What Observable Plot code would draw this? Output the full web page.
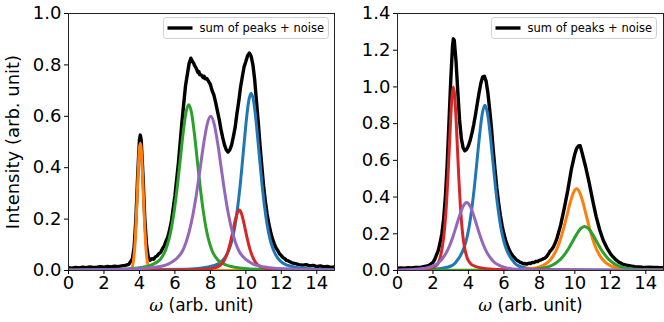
<!DOCTYPE html>
<html><head><meta charset="utf-8">
<script src="https://cdn.jsdelivr.net/npm/d3@7"></script>
<script src="https://cdn.jsdelivr.net/npm/@observablehq/plot@0.6"></script>
<style>
body{margin:0;background:#fff;}
#wrap{position:relative;width:664px;height:322px;font-family:"DejaVu Sans",sans-serif;}
#wrap svg{position:absolute;top:0;overflow:visible;}
</style></head><body><div id="wrap"></div>
<script>
// ---------- data ----------
const xTicks = [0, 2, 4, 6, 8, 10, 12, 14];
const leftYTicks = [0, 0.2, 0.4, 0.6, 0.8, 1.0];
const rightYTicks = [0, 0.2, 0.4, 0.6, 0.8, 1.0, 1.2, 1.4];
const legendText = "sum of peaks + noise";
const yLabelText = "Intensity (arb. unit)";

const leftBlack = [[0,.011],[.2,.009],[.4,.012],[.6,.010],[.8,.013],[1,.011],[1.2,.014],[1.4,.012],[1.6,.013],[1.8,.015],[2,.013],[2.2,.016],[2.4,.014],[2.6,.017],[2.8,.015],[3,.018],[3.2,.020],[3.4,.024],[3.6,.045],[3.7,.09],[3.8,.2],[3.9,.368],[4,.508],[4.05,.527],[4.1,.508],[4.2,.37],[4.3,.205],[4.4,.10],[4.5,.052],[4.6,.040],[4.7,.046],[4.8,.044],[4.9,.053],[5,.057],[5.1,.066],[5.2,.071],[5.3,.085],[5.4,.096],[5.5,.114],[5.6,.131],[5.7,.158],[5.8,.19],[6,.29],[6.2,.42],[6.4,.58],[6.6,.72],[6.8,.805],[6.9,.826],[7,.812],[7.05,.808],[7.1,.799],[7.2,.787],[7.3,.770],[7.35,.774],[7.4,.762],[7.5,.760],[7.6,.750],[7.65,.756],[7.7,.746],[7.8,.747],[7.9,.736],[8,.724],[8.1,.70],[8.2,.682],[8.3,.653],[8.4,.62],[8.5,.587],[8.6,.548],[8.7,.516],[8.8,.488],[8.9,.469],[9,.461],[9.1,.470],[9.2,.489],[9.3,.522],[9.4,.558],[9.5,.612],[9.6,.658],[9.7,.712],[9.8,.753],[9.9,.792],[10,.813],[10.1,.836],[10.2,.846],[10.3,.833],[10.4,.80],[10.5,.742],[10.6,.658],[10.7,.577],[10.8,.488],[10.9,.407],[11,.33],[11.1,.27],[11.2,.22],[11.3,.18],[11.4,.15],[11.5,.124],[11.6,.105],[11.7,.088],[11.8,.078],[11.9,.065],[12,.058],[12.1,.050],[12.2,.046],[12.3,.039],[12.4,.037],[12.6,.030],[12.8,.027],[13,.023],[13.2,.021],[13.4,.023],[13.6,.018],[13.8,.020],[14,.015],[14.2,.018],[14.4,.014],[14.6,.016],[14.8,.012],[15,.014]];
const leftBlue = [[0,0.001],[6.7,0.005],[7.9,0.014],[8.5,0.028],[8.8,0.048],[9.1,0.09],[9.25,0.126],[9.4,0.179],[9.55,0.252],[9.7,0.345],[9.85,0.455],[10.0,0.566],[10.15,0.655],[10.3,0.69],[10.45,0.655],[10.6,0.566],[10.75,0.455],[10.9,0.345],[11.05,0.252],[11.2,0.179],[11.35,0.126],[11.5,0.09],[11.8,0.048],[12.1,0.028],[12.7,0.014],[13.9,0.005],[15,0.003]];
const leftOrange = [[0,0],[3.45,0.001],[3.55,0.006],[3.65,0.031],[3.75,0.104],[3.8,0.168],[3.85,0.248],[3.9,0.335],[3.95,0.416],[4.0,0.474],[4.05,0.495],[4.1,0.474],[4.15,0.416],[4.2,0.335],[4.25,0.248],[4.3,0.168],[4.35,0.104],[4.45,0.031],[4.55,0.006],[4.65,0.001],[15,0]];
const leftGreen = [[0,0.002],[2.88,0.005],[4.18,0.013],[4.83,0.026],[5.155,0.042],[5.48,0.08],[5.6425,0.115],[5.805,0.165],[5.9675,0.235],[6.13,0.323],[6.2925,0.425],[6.455,0.529],[6.6175,0.612],[6.78,0.645],[6.9425,0.612],[7.105,0.529],[7.2675,0.425],[7.43,0.323],[7.5925,0.235],[7.755,0.165],[7.9175,0.115],[8.08,0.08],[8.405,0.042],[8.73,0.026],[9.38,0.013],[10.68,0.005],[15,0.001]];
const leftRed = [[0,0],[6.81,0.002],[7.75,0.005],[8.22,0.01],[8.455,0.016],[8.69,0.03],[8.8075,0.043],[8.925,0.061],[9.0425,0.086],[9.16,0.118],[9.2775,0.155],[9.395,0.193],[9.5125,0.223],[9.63,0.235],[9.7475,0.223],[9.865,0.193],[9.9825,0.155],[10.1,0.118],[10.2175,0.086],[10.335,0.061],[10.4525,0.043],[10.57,0.03],[10.805,0.016],[11.04,0.01],[11.51,0.005],[12.45,0.002],[15,0]];
const leftPurple = [[0,0.002],[3.22,0.005],[4.82,0.012],[5.62,0.025],[6.02,0.042],[6.42,0.075],[6.62,0.108],[6.82,0.155],[7.02,0.219],[7.22,0.3],[7.42,0.395],[7.62,0.492],[7.82,0.569],[8.02,0.6],[8.22,0.569],[8.42,0.492],[8.62,0.395],[8.82,0.3],[9.02,0.219],[9.22,0.155],[9.42,0.108],[9.62,0.075],[10.02,0.042],[10.42,0.025],[11.22,0.012],[12.82,0.005],[15,0.002]];

const rightBlack = [[0,.012],[.2,.014],[.4,.012],[.6,.015],[.8,.014],[1.0,.017],[1.2,.016],[1.4,.019],[1.6,.023],[1.8,.03],[2.0,.045],[2.1,.06],[2.2,.085],[2.3,.11],[2.4,.15],[2.5,.2],[2.6,.28],[2.7,.40],[2.8,.575],[2.9,.80],[3.0,1.03],[3.1,1.22],[3.15,1.262],[3.2,1.255],[3.3,1.14],[3.4,.975],[3.5,.82],[3.6,.72],[3.7,.668],[3.8,.652],[3.9,.66],[4.0,.68],[4.1,.71],[4.2,.748],[4.3,.795],[4.4,.85],[4.5,.91],[4.6,.968],[4.7,1.02],[4.8,1.055],[4.9,1.058],[5.0,1.03],[5.1,.965],[5.2,.875],[5.3,.775],[5.4,.655],[5.5,.55],[5.6,.45],[5.7,.37],[5.8,.30],[5.9,.245],[6.0,.20],[6.1,.165],[6.2,.137],[6.3,.112],[6.4,.095],[6.5,.080],[6.6,.07],[6.7,.058],[6.8,.052],[6.9,.045],[7.0,.042],[7.1,.036],[7.2,.038],[7.3,.035],[7.4,.04],[7.5,.038],[7.6,.044],[7.7,.043],[7.8,.05],[7.9,.049],[8.0,.055],[8.1,.058],[8.2,.063],[8.3,.067],[8.4,.075],[8.5,.088],[8.6,.105],[8.7,.115],[8.8,.13],[8.9,.152],[9.0,.178],[9.2,.247],[9.4,.337],[9.6,.435],[9.8,.549],[10.0,.635],[10.1,.665],[10.2,.678],[10.3,.68],[10.4,.645],[10.6,.568],[10.8,.482],[11.0,.385],[11.2,.295],[11.4,.222],[11.6,.165],[11.8,.125],[11.9,.108],[12.0,.093],[12.1,.080],[12.2,.07],[12.3,.059],[12.4,.052],[12.5,.044],[12.6,.04],[12.7,.034],[12.8,.032],[13.0,.027],[13.2,.024],[13.4,.021],[13.6,.02],[13.8,.018],[14.0,.017],[14.2,.018],[14.4,.016],[14.6,.017],[14.8,.015],[15,.016]];
const rightBlue = [[0,0.001],[1.33,0.004],[2.53,0.012],[3.13,0.03],[3.43,0.063],[3.73,0.118],[3.88,0.165],[4.03,0.233],[4.18,0.329],[4.33,0.45],[4.48,0.593],[4.63,0.738],[4.78,0.854],[4.93,0.9],[5.08,0.854],[5.23,0.738],[5.38,0.593],[5.53,0.45],[5.68,0.329],[5.83,0.233],[5.98,0.165],[6.13,0.118],[6.43,0.063],[6.73,0.03],[7.33,0.012],[8.53,0.004],[15,0.001]];
const rightOrange = [[0,0],[5.6,0.002],[7.1,0.007],[7.85,0.015],[8.225,0.028],[8.6,0.056],[8.7875,0.081],[8.975,0.115],[9.1625,0.162],[9.35,0.2225],[9.5375,0.293],[9.725,0.365],[9.9125,0.422],[10.1,0.445],[10.2875,0.422],[10.475,0.365],[10.6625,0.293],[10.85,0.2225],[11.0375,0.162],[11.225,0.115],[11.4125,0.081],[11.6,0.056],[11.975,0.028],[12.35,0.015],[13.1,0.007],[14.6,0.003],[15,0.002]];
const rightGreen = [[0,0],[5.15,0.001],[6.95,0.004],[7.85,0.008],[8.3,0.015],[8.75,0.03],[8.975,0.044],[9.2,0.062],[9.425,0.0876],[9.65,0.12],[9.875,0.158],[10.1,0.197],[10.325,0.228],[10.55,0.24],[10.775,0.228],[11.0,0.197],[11.225,0.158],[11.45,0.12],[11.675,0.0876],[11.9,0.062],[12.125,0.044],[12.35,0.03],[12.8,0.015],[13.25,0.008],[14.15,0.004],[15,0.002]];
const rightRed = [[0,0.001],[1.29,0.006],[1.91,0.015],[2.22,0.03],[2.375,0.06],[2.53,0.131],[2.6075,0.183],[2.685,0.259],[2.7625,0.365],[2.84,0.5],[2.9175,0.659],[2.995,0.82],[3.0725,0.949],[3.15,1.0],[3.2275,0.949],[3.305,0.82],[3.3825,0.659],[3.46,0.5],[3.5375,0.365],[3.615,0.259],[3.6925,0.183],[3.77,0.131],[3.925,0.07],[4.08,0.042],[4.39,0.022],[5.01,0.01],[6.2,0.004],[15,0]];
const rightPurple = [[0,0.002],[0.82,0.006],[1.59,0.013],[1.975,0.024],[2.36,0.046],[2.5525,0.068],[2.745,0.096],[2.9375,0.135],[3.13,0.185],[3.3225,0.244],[3.515,0.303],[3.7075,0.351],[3.9,0.37],[4.0925,0.351],[4.285,0.303],[4.4775,0.244],[4.67,0.185],[4.8625,0.135],[5.055,0.096],[5.2475,0.068],[5.44,0.046],[5.825,0.024],[6.21,0.013],[6.98,0.006],[8.52,0.002],[15,0.001]];

const C = {blue:"#1f77b4", orange:"#ff7f0e", green:"#2ca02c", red:"#d62728", purple:"#9467bd"};

// ---------- drawing ----------
const toRows = arr => arr.map(([x, y]) => ({x, y}));

function makePanel(o) {
  const marks = [
    Plot.line(toRows(o.black), {x: "x", y: "y", stroke: "#000", strokeWidth: 3.4, clip: true}),
    ...o.series.map(s => Plot.line(toRows(s.data), {x: "x", y: "y", stroke: s.color, strokeWidth: 3, curve: "monotone-x", clip: true})),
    Plot.frame({stroke: "#222", strokeWidth: 1}),
    Plot.axisX({ticks: xTicks, tickSize: 4, tickPadding: 2, fontSize: 18, label: "ω (arb. unit)", labelAnchor: "center", labelOffset: 40, labelArrow: "none"}),
    Plot.axisY({ticks: o.yTicks, tickSize: 4, tickPadding: 3, fontSize: 18, tickFormat: d3.format(".1f"), label: o.yLabel, labelAnchor: "center", labelOffset: 62, labelArrow: "none"})
  ];
  const svg = Plot.plot({
    width: o.width, height: 322,
    marginLeft: o.marginLeft, marginRight: o.marginRight, marginTop: 13, marginBottom: 52,
    x: {domain: [0, 15]}, y: {domain: [0, o.yMax]},
    style: {fontFamily: "DejaVu Sans, sans-serif", fontSize: "18px", color: "#000", background: "transparent"},
    marks
  });
  svg.style.left = o.left + "px";
  const s = d3.select(svg);
  // italic omega in x label
  const xl = s.select('g[aria-label="x-axis label"] text');
  if (!xl.empty()) {
    xl.text(null).attr("font-size", 17);
    xl.append("tspan").attr("font-family", "DejaVu Serif").attr("font-style", "italic").text("ω");
    xl.append("tspan").text(" (arb. unit)");
  }
  const yl = s.select('g[aria-label="y-axis label"] text');
  if (!yl.empty()) yl.text(o.yLabel).attr("font-size", 18);
  // legend box
  const lg = o.legend;
  const g = s.append("g").attr("text-anchor", "start");
  g.append("rect").attr("x", lg.x).attr("y", 17.5).attr("width", 165).attr("height", 21).attr("rx", 3)
    .attr("fill", "#fff").attr("fill-opacity", 0.8).attr("stroke", "#d0d0d0");
  g.append("line").attr("x1", lg.x + 4).attr("x2", lg.x + 29).attr("y1", 28).attr("y2", 28).attr("stroke", "#000").attr("stroke-width", 3.4);
  g.append("text").attr("x", lg.x + 36).attr("y", 28).attr("dy", "0.35em").attr("text-anchor", "start").attr("font-size", 11.5).attr("font-family", "DejaVu Sans").attr("fill", "#000").text(legendText);
  document.getElementById("wrap").appendChild(svg);
}

makePanel({
  left: 0, width: 340, marginLeft: 68, marginRight: 6, yMax: 1.0, yTicks: leftYTicks,
  yLabel: yLabelText, black: leftBlack,
  series: [{data: leftBlue, color: C.blue}, {data: leftOrange, color: C.orange}, {data: leftGreen, color: C.green}, {data: leftRed, color: C.red}, {data: leftPurple, color: C.purple}],
  legend: {x: 163.5}
});
makePanel({
  left: 340, width: 324, marginLeft: 57, marginRight: 1, yMax: 1.4, yTicks: rightYTicks,
  yLabel: null, black: rightBlack,
  series: [{data: rightBlue, color: C.blue}, {data: rightOrange, color: C.orange}, {data: rightGreen, color: C.green}, {data: rightRed, color: C.red}, {data: rightPurple, color: C.purple}],
  legend: {x: 491.5 - 340}
});
</script></body></html>
